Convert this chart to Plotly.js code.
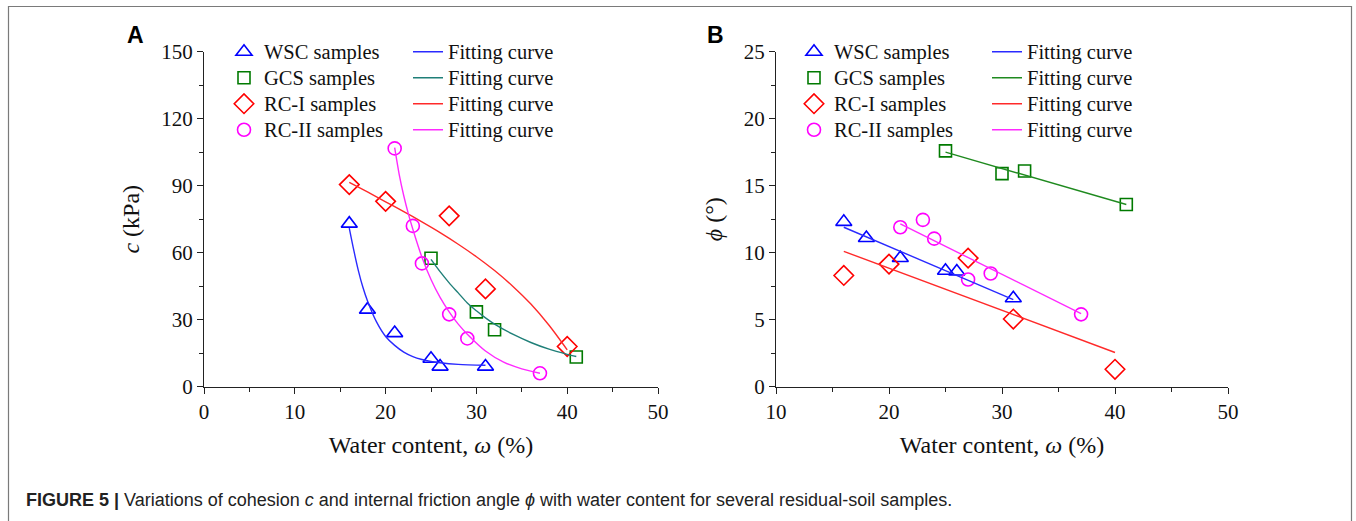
<!DOCTYPE html>
<html><head><meta charset="utf-8">
<script src="https://cdn.plot.ly/plotly-3.0.1.min.js"></script>
<style>html,body{margin:0;padding:0;background:#fff;}#chart{width:1356px;height:521px;}</style>
</head><body><div id="chart"></div>
<script>
// ---------- Panel A: cohesion c (kPa) ----------
const wscX = [16, 18, 21, 25, 26, 31];
const wscC = [73, 34.5, 24, 12.5, 9, 9];
const gcsX = [25, 30, 32, 41];
const gcsC = [57.5, 33.5, 25.5, 13.3];
const rc1X = [16, 20, 27, 31, 40];
const rc1C = [90.5, 83, 76.5, 43.8, 18];
const rc2X = [21, 23, 24, 27, 29, 37];
const rc2C = [106.7, 72, 55.2, 32.4, 21.6, 6];

// fitted curves (panel A)
const wscFitX = [16, 16.5, 17, 17.5, 18, 19, 20, 21, 22, 23, 24, 25, 26, 28, 31];
const wscFitC = [71, 61, 52, 44.5, 38.5, 29, 22.5, 18.5, 15.5, 13.5, 12.2, 11.3, 10.7, 10, 9.6];
const gcsFitX = [25, 26, 27, 28, 29, 30, 31, 32, 34, 36, 38, 40, 41];
const gcsFitC = [57, 51.5, 46.5, 42, 37.5, 34, 30.8, 28, 23.5, 19.8, 16.8, 14.5, 13.5];
const rc1FitX = [16, 18, 20, 22, 24, 26, 28, 30, 32, 34, 36, 38, 40];
const rc1FitC = [91.5, 87.2, 82.8, 78.4, 73.8, 69, 63.8, 58.2, 52, 45, 37, 27.5, 16.5];
const rc2FitX = [21, 21.5, 22, 22.5, 23, 24, 25, 26, 27, 28, 29, 31, 33, 35, 37];
const rc2FitC = [107, 95, 85.5, 77.5, 70.5, 58, 48, 40, 33.5, 28, 23.5, 16, 11, 8, 6];

// ---------- Panel B: friction angle phi (deg) ----------
const wscPhi = [12.3, 11.1, 9.6, 8.65, 8.6, 6.6];
const gcsPhi = [17.6, 15.9, 16.1, 13.6];
const rc1Phi = [8.3, 9.15, 9.6, 5.05, 1.3];
const rc2Phi = [11.9, 12.45, 11.05, 8.0, 8.45, 5.4];

const wscLineX = [16, 31];   const wscLinePhi = [11.9, 6.5];
const gcsLineX = [25, 41];   const gcsLinePhi = [17.5, 13.6];
const rc1LineX = [16, 40];   const rc1LinePhi = [10.1, 2.55];
const rc2LineX = [21, 37];   const rc2LinePhi = [12.15, 5.45];

const sampleNames = ['WSC samples', 'GCS samples', 'RC-I samples', 'RC-II samples'];
const fitName = 'Fitting curve';

const W = 1356, H = 521;
const LF = 17.7;           // legend font size (controls row pitch)
const LT = 20.5;           // visible legend text size
const lbl = t => '<span style="font-family:Liberation Serif;font-size:' + LT + 'px">' + t + '</span>';

const sym = ['triangle-up-open', 'square-open', 'diamond-open', 'circle-open'];
const msz = [14, 12, 15, 13];
const mcol = ['#0000ff', '#007a00', '#ff0000', '#ff00ff'];
const fitColA = ['#2a2aff', '#1f7f78', '#ff2a2a', '#ff2aff'];
const fitColB = ['#2a2aff', '#1f8a1f', '#ff2a2a', '#ff2aff'];

function markerTrace(x, y, i, xa, ya, leg) {
  return {x: x, y: y, xaxis: xa, yaxis: ya, type: 'scatter', mode: 'markers',
    name: lbl(sampleNames[i]), legend: leg, cliponaxis: false,
    marker: {symbol: sym[i], size: msz[i], color: mcol[i], line: {width: 1.6, color: mcol[i]}}};
}
function fitTrace(x, y, col, xa, ya, leg, spline) {
  return {x: x, y: y, xaxis: xa, yaxis: ya, type: 'scatter', mode: 'lines',
    name: lbl(fitName), legend: leg,
    line: {color: col, width: 1.4, shape: spline ? 'spline' : 'linear', smoothing: 0.8}};
}

const data = [
  markerTrace(wscX, wscC, 0, 'x', 'y', 'legend'),
  markerTrace(gcsX, gcsC, 1, 'x', 'y', 'legend'),
  markerTrace(rc1X, rc1C, 2, 'x', 'y', 'legend'),
  markerTrace(rc2X, rc2C, 3, 'x', 'y', 'legend'),
  fitTrace(wscFitX, wscFitC, fitColA[0], 'x', 'y', 'legend2', true),
  fitTrace(gcsFitX, gcsFitC, fitColA[1], 'x', 'y', 'legend2', true),
  fitTrace(rc1FitX, rc1FitC, fitColA[2], 'x', 'y', 'legend2', true),
  fitTrace(rc2FitX, rc2FitC, fitColA[3], 'x', 'y', 'legend2', true),
  markerTrace(wscX, wscPhi, 0, 'x2', 'y2', 'legend3'),
  markerTrace(gcsX, gcsPhi, 1, 'x2', 'y2', 'legend3'),
  markerTrace(rc1X, rc1Phi, 2, 'x2', 'y2', 'legend3'),
  markerTrace(rc2X, rc2Phi, 3, 'x2', 'y2', 'legend3'),
  fitTrace(wscLineX, wscLinePhi, fitColB[0], 'x2', 'y2', 'legend4', false),
  fitTrace(gcsLineX, gcsLinePhi, fitColB[1], 'x2', 'y2', 'legend4', false),
  fitTrace(rc1LineX, rc1LinePhi, fitColB[2], 'x2', 'y2', 'legend4', false),
  fitTrace(rc2LineX, rc2LinePhi, fitColB[3], 'x2', 'y2', 'legend4', false)
];

const serif = 'Liberation Serif, serif';
const axCol = '#222';
function xAxis(domain, range, anchor) {
  return {domain: domain, range: range, anchor: anchor, dtick: 10, tick0: 0,
    showline: true, linecolor: axCol, linewidth: 1.2, ticks: 'outside', ticklen: 6, tickwidth: 1.2, tickcolor: axCol,
    minor: {dtick: 5, ticks: 'outside', ticklen: 4, tickwidth: 1.1, tickcolor: axCol, showgrid: false},
    showgrid: false, zeroline: false, tickfont: {family: serif, size: 21, color: '#111'},
    title: {text: 'Water content, <i>ω</i> (%)', font: {family: serif, size: 24, color: '#111'}, standoff: 13}};
}
function yAxis(domain, range, dtick, anchor, title) {
  return {domain: domain, range: range, anchor: anchor, dtick: dtick, tick0: 0,
    showline: true, linecolor: axCol, linewidth: 1.2, ticks: 'outside', ticklen: 6, tickwidth: 1.2, tickcolor: axCol,
    minor: {dtick: dtick / 2, ticks: 'outside', ticklen: 4, tickwidth: 1.1, tickcolor: axCol, showgrid: false},
    showgrid: false, zeroline: false, tickfont: {family: serif, size: 21, color: '#111'},
    title: {text: title, font: {family: serif, size: 24, color: '#111'}, standoff: 14}};
}
const yDom = [(H - 386.7) / H, (H - 51.7) / H];
function legendAt(px) {
  return {x: px / W, xanchor: 'left', y: 1 - 33.7 / H, yanchor: 'top', orientation: 'v',
    bgcolor: 'rgba(0,0,0,0)', borderwidth: 0, traceorder: 'normal',
    font: {family: serif, size: LF, color: '#111'}};
}

const layout = {
  width: W, height: H, margin: {l: 0, r: 0, t: 0, b: 0},
  font: {family: serif, color: '#111'},
  paper_bgcolor: '#fff', plot_bgcolor: 'rgba(0,0,0,0)', showlegend: true,
  xaxis: xAxis([204 / W, 658 / W], [0, 50], 'y'),
  yaxis: yAxis(yDom, [0, 150], 30, 'x', '<i>c</i> (kPa)'),
  xaxis2: xAxis([776 / W, 1228 / W], [10, 50], 'y2'),
  yaxis2: yAxis(yDom, [0, 25], 5, 'x2', '<i>ϕ</i> (°)'),
  legend: legendAt(224),
  legend2: legendAt(408),
  legend3: legendAt(794),
  legend4: legendAt(987),
  shapes: [{type: 'rect', xref: 'paper', yref: 'paper', x0: 8.5 / W, x1: 1351.5 / W,
    y0: -0.05, y1: 1 - 6.5 / H, line: {color: '#7a7a7a', width: 1.2}, fillcolor: 'rgba(0,0,0,0)', layer: 'below'}],
  annotations: [
    {text: '<b>A</b>', xref: 'paper', yref: 'paper', x: 135 / W, y: 1 - 35 / H, xanchor: 'center', yanchor: 'middle',
      showarrow: false, font: {family: 'Liberation Sans, Arial, sans-serif', size: 23, color: '#000'}},
    {text: '<b>B</b>', xref: 'paper', yref: 'paper', x: 715 / W, y: 1 - 35 / H, xanchor: 'center', yanchor: 'middle',
      showarrow: false, font: {family: 'Liberation Sans, Arial, sans-serif', size: 23, color: '#000'}},
    {text: '<b>FIGURE 5 |</b> Variations of cohesion <i>c</i> and internal friction angle <i>ϕ</i> with water content for several residual-soil samples.',
      xref: 'paper', yref: 'paper', x: 24 / W, y: 1 - 500 / H, xanchor: 'left', yanchor: 'middle',
      showarrow: false, font: {family: 'Liberation Sans, Arial, sans-serif', size: 18, color: '#222'}}
  ]
};

Plotly.newPlot('chart', data, layout, {displayModeBar: false});
</script>
</body></html>
